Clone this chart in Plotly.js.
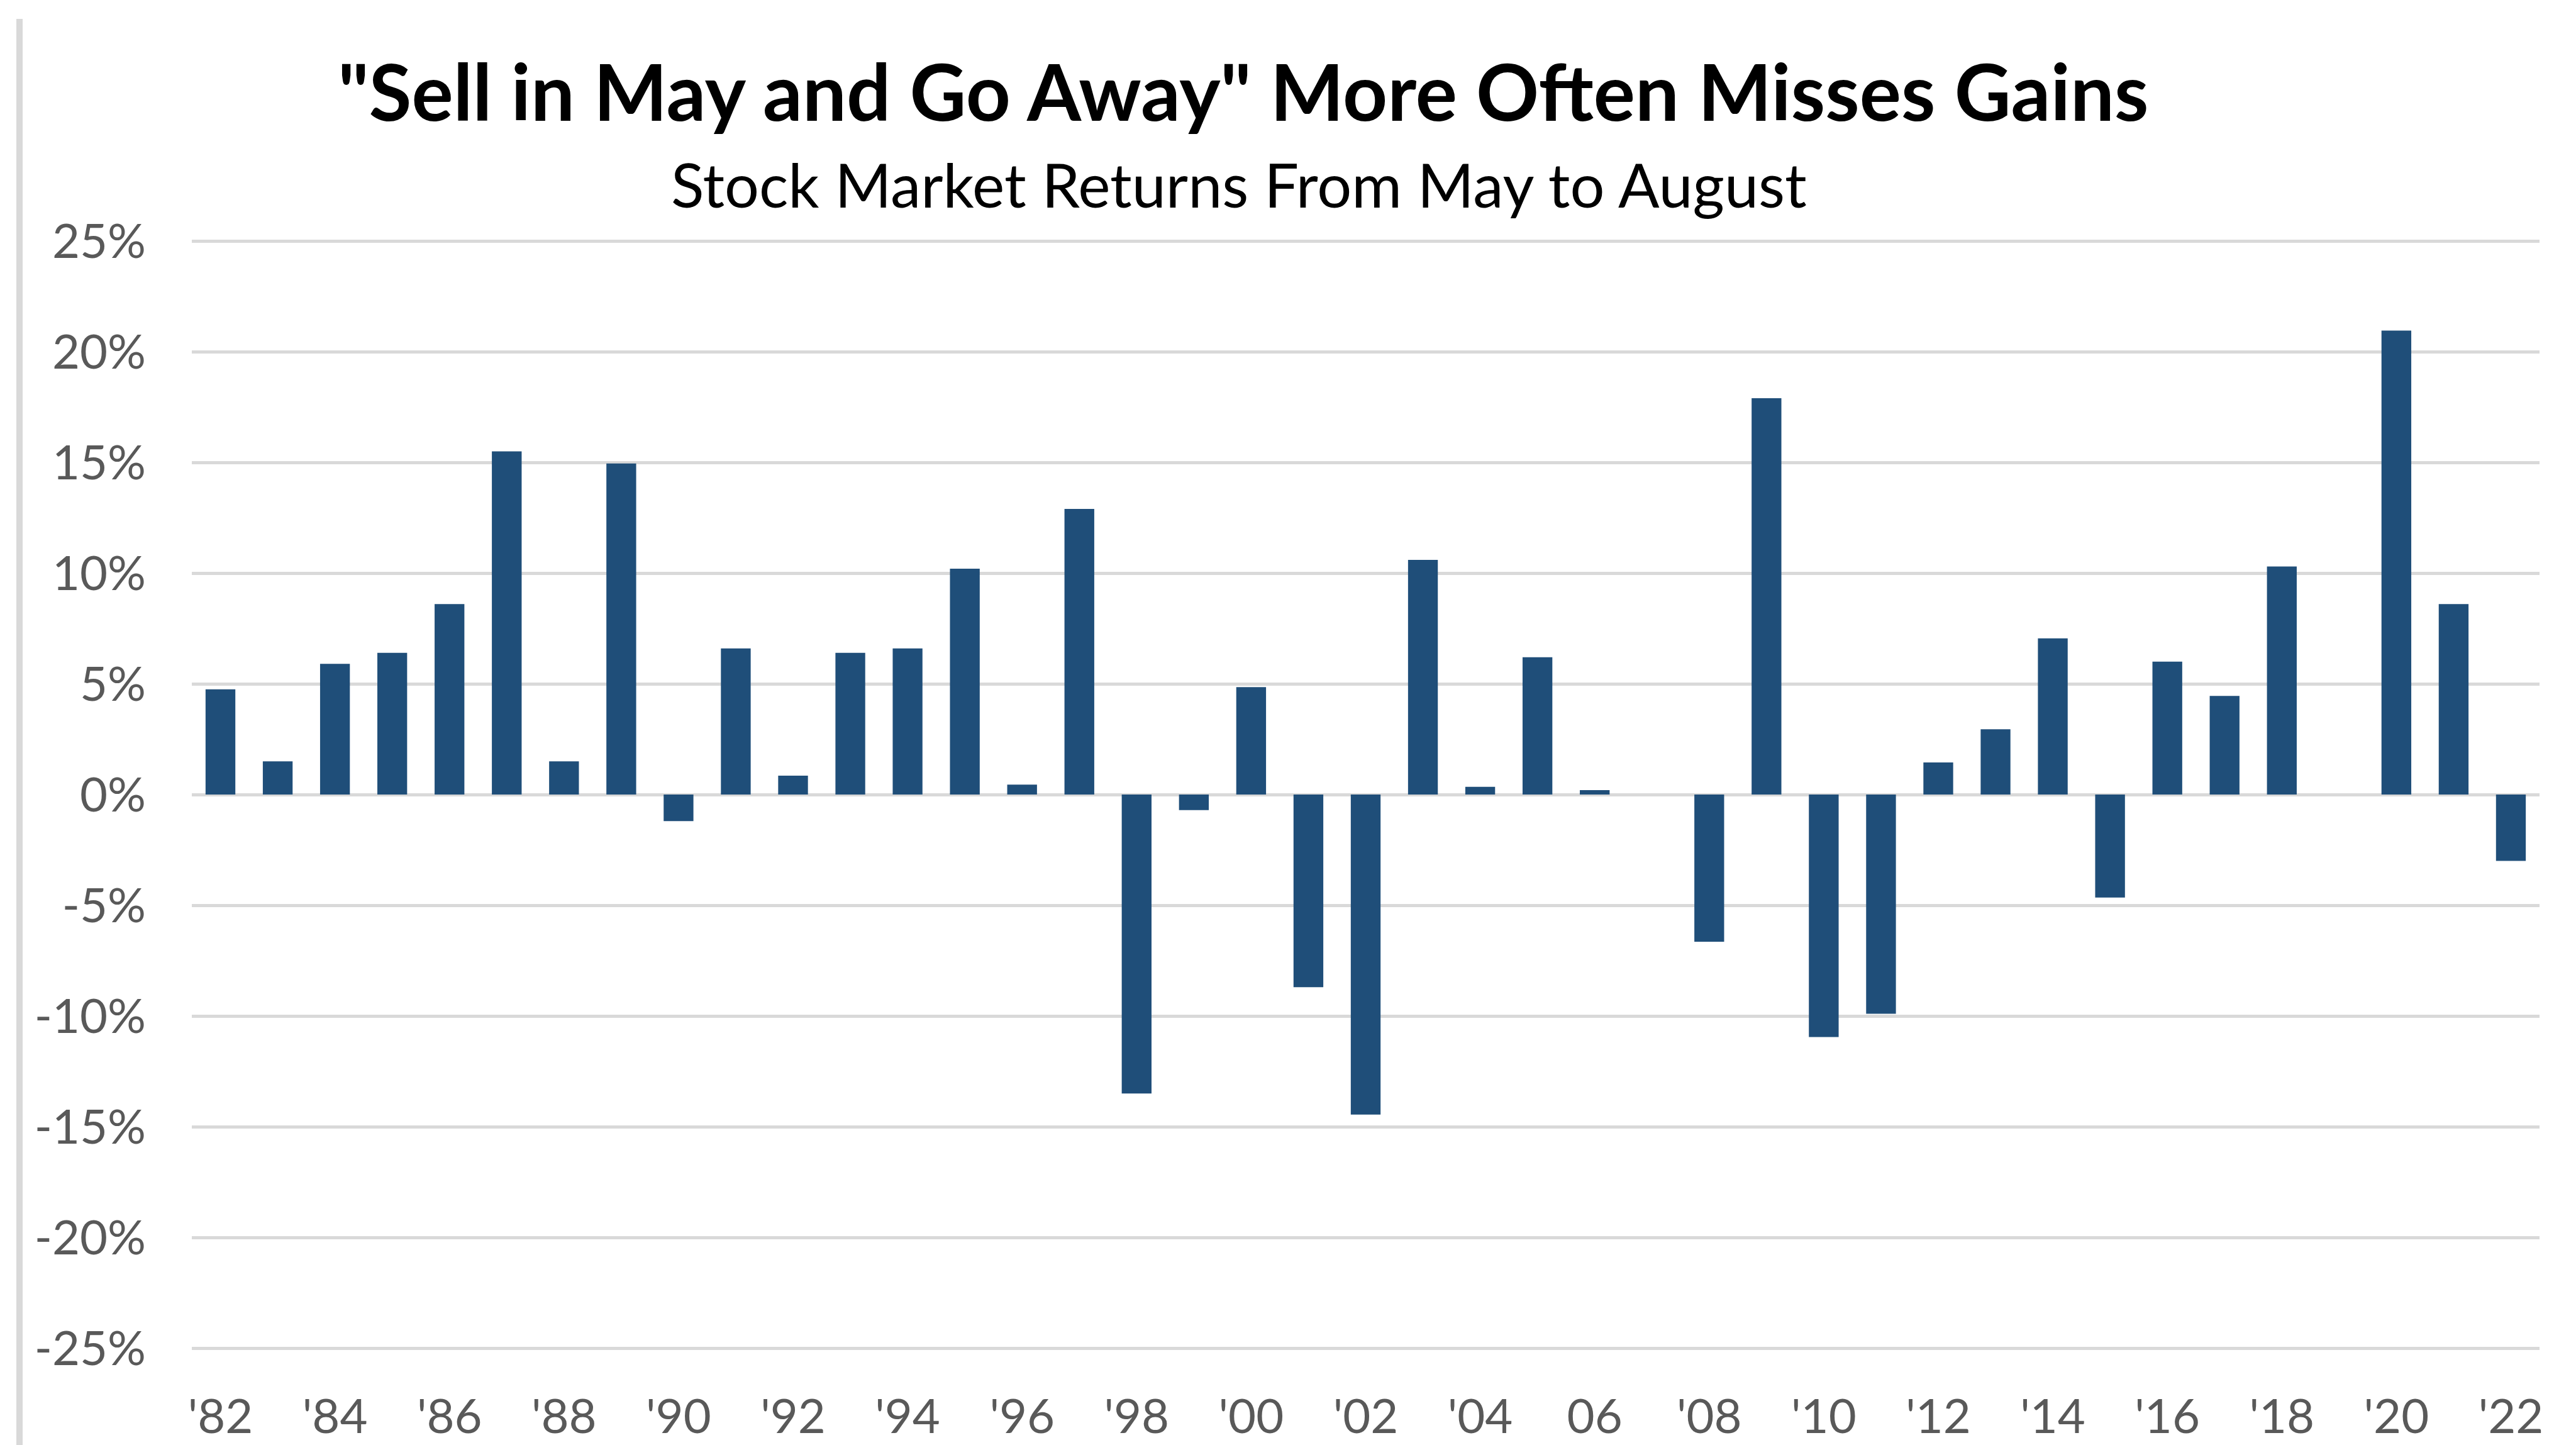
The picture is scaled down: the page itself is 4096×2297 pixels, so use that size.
<!DOCTYPE html>
<html>
<head>
<meta charset="utf-8">
<script src="https://cdn.plot.ly/plotly-3.0.1.min.js"></script>
<style>
  html, body { margin: 0; padding: 0; background: #ffffff; }
  #chart { width: 4096px; height: 2297px; }
</style>
</head>
<body>
<div id="chart"></div>
<script>
// ---- data ----
const years = ["1982","1983","1984","1985","1986","1987","1988","1989","1990","1991",
               "1992","1993","1994","1995","1996","1997","1998","1999","2000","2001",
               "2002","2003","2004","2005","2006","2007","2008","2009","2010","2011",
               "2012","2013","2014","2015","2016","2017","2018","2019","2020","2021","2022"];
const returnsPct = [4.75, 1.5, 5.9, 6.4, 8.6, 15.5, 1.5, 14.95, -1.2, 6.6,
                    0.85, 6.4, 6.6, 10.2, 0.45, 12.9, -13.5, -0.7, 4.85, -8.7,
                    -14.45, 10.6, 0.35, 6.2, 0.2, 0, -6.65, 17.9, -10.95, -9.9,
                    1.45, 2.95, 7.05, -4.65, 6.0, 4.45, 10.3, 0, 20.95, 8.6, -3.0];
const xTickVals = ["1982","1984","1986","1988","1990","1992","1994","1996","1998","2000",
                   "2002","2004","2006","2008","2010","2012","2014","2016","2018","2020","2022"];
const xTickText = ["'82","'84","'86","'88","'90","'92","'94","'96","'98","'00",
                   "'02","'04","06","'08","'10","'12","'14","'16","'18","'20","'22"];
const yTickVals = [-25, -20, -15, -10, -5, 0, 5, 10, 15, 20, 25];
const yTickText = ["-25%","-20%","-15%","-10%","-5%","0%","5%","10%","15%","20%","25%"];
const titleText = "\"Sell in May and Go Away\" More Often Misses Gains";
const subtitleText = "Stock Market Returns From May to August";

// ---- layout geometry (window pixels) ----
const W = 4096, H = 2297;
const PAD = 4; // extra pixels above/below so the outer gridlines are drawn
const M = { l: 305, r: 58, t: 383 - PAD, b: 154 - PAD };
const plotW = W - M.l - M.r, plotH = H - M.t - M.b;
const yExtra = 50 * PAD / (plotH - 2 * PAD);
const px2paperX = x => (x - M.l) / plotW;
const px2paperY = y => (H - M.b - y) / plotH;

const FONT = "Lato, 'Open Sans', sans-serif";
const GRID = "#d9d9d9";
const TICKCOL = "#595959";

const trace = {
  type: "bar",
  x: years,
  y: returnsPct,
  marker: { color: "#1f4e79", line: { width: 0 } },
  hoverinfo: "x+y"
};

const layout = {
  width: W, height: H,
  margin: M,
  paper_bgcolor: "#ffffff",
  plot_bgcolor: "#ffffff",
  showlegend: false,
  bargap: 0.48,
  title: {
    text: titleText,
    font: { family: FONT, size: 124, color: "#000000", weight: 700 },
    xref: "paper", x: px2paperX(1977), xanchor: "center",
    yref: "container", y: 1 - 149 / H, yanchor: "middle"
  },
  annotations: [{
    text: subtitleText,
    xref: "paper", yref: "paper",
    x: px2paperX(1970), y: px2paperY(293),
    xanchor: "center", yanchor: "middle",
    showarrow: false,
    font: { family: FONT, size: 97, color: "#000000" }
  }],
  xaxis: {
    type: "category",
    range: [-0.5, years.length - 0.5],
    tickmode: "array",
    tickvals: xTickVals,
    ticktext: xTickText,
    showgrid: false,
    showline: false,
    zeroline: false,
    ticks: "",
    ticklabelstandoff: 58 - PAD,
    tickfont: { family: FONT, size: 76, color: TICKCOL },
    fixedrange: true
  },
  yaxis: {
    range: [-25 - yExtra, 25 + yExtra],
    tickmode: "array",
    tickvals: yTickVals,
    ticktext: yTickText,
    showgrid: true,
    gridcolor: GRID,
    gridwidth: 5,
    zeroline: true,
    zerolinecolor: GRID,
    zerolinewidth: 5,
    showline: false,
    ticks: "",
    ticklabelstandoff: 72,
    tickfont: { family: FONT, size: 76, color: TICKCOL },
    fixedrange: true
  },
  shapes: [{
    type: "line",
    xref: "paper", yref: "paper",
    x0: px2paperX(31), x1: px2paperX(31),
    y0: px2paperY(30), y1: px2paperY(H + 10),
    line: { color: "#d9d9d9", width: 10 }
  }]
};

Plotly.newPlot("chart", [trace], layout, { staticPlot: true, displayModeBar: false });
</script>
</body>
</html>
